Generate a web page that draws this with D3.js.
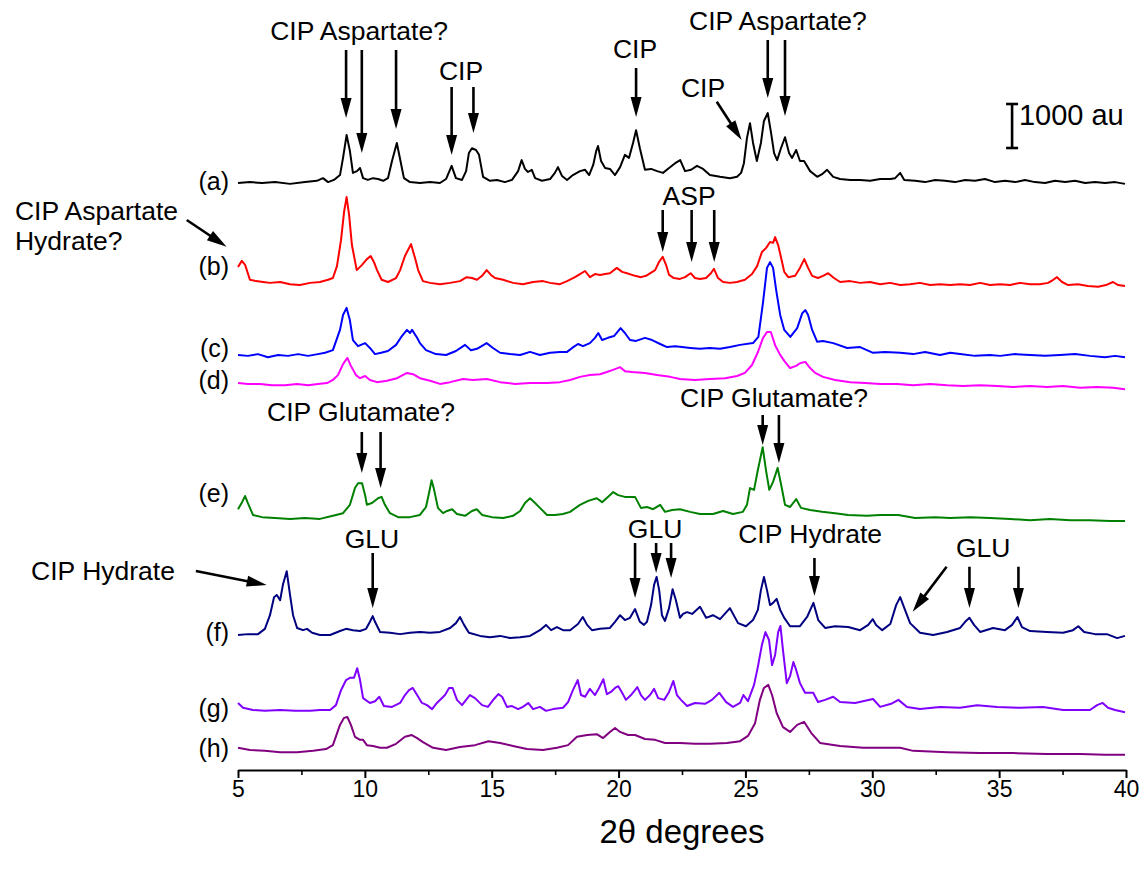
<!DOCTYPE html>
<html><head><meta charset="utf-8">
<script src="https://cdn.jsdelivr.net/npm/d3@7/dist/d3.min.js"></script>
<style>
body{margin:0;background:#fff}
svg{display:block}
text{font-family:"Liberation Sans",Arial,Helvetica,sans-serif;fill:#000}
</style>
</head><body>
<svg id="chart" width="1143" height="878"></svg>
<script>
// ---- data: [2theta (deg), intensity above own baseline (au)] ----
const traceA = [[5.0,0],[5.47,20],[5.95,0],[6.46,20],[7.05,-20],[7.64,20],[8.11,50],[8.35,110],[8.55,20],[8.78,70],[9.02,180],[9.14,570],[9.28,1090],[9.41,730],[9.53,230],[9.69,270],[9.81,340],[9.93,110],[10.12,70],[10.32,110],[10.52,90],[10.72,50],[10.91,110],[11.07,500],[11.26,910],[11.39,540],[11.54,110],[11.78,20],[12.17,0],[12.57,20],[12.96,0],[13.2,90],[13.42,390],[13.59,110],[13.83,70],[13.99,270],[14.1,680],[14.22,790],[14.38,750],[14.5,640],[14.66,140],[14.93,50],[15.21,70],[15.52,20],[15.8,70],[16.04,270],[16.18,520],[16.31,320],[16.43,250],[16.58,300],[16.71,110],[16.98,50],[17.3,90],[17.49,230],[17.61,360],[17.77,160],[17.97,70],[18.2,180],[18.48,270],[18.68,300],[18.84,180],[19.0,410],[19.12,730],[19.19,840],[19.31,500],[19.47,340],[19.66,320],[19.86,180],[20.06,360],[20.25,640],[20.41,570],[20.57,910],[20.69,1200],[20.84,790],[21.04,300],[21.28,320],[21.52,270],[21.75,230],[21.99,340],[22.23,450],[22.43,520],[22.62,270],[22.86,300],[23.09,390],[23.33,320],[23.6,180],[24.0,140],[24.39,110],[24.67,140],[24.83,230],[24.94,450],[25.06,1020],[25.18,1360],[25.3,910],[25.45,500],[25.61,910],[25.73,1410],[25.88,1590],[26.01,1140],[26.13,680],[26.25,520],[26.4,790],[26.56,1040],[26.72,680],[26.84,570],[27.0,750],[27.15,500],[27.31,500],[27.55,270],[27.83,140],[28.02,200],[28.22,300],[28.46,140],[28.73,90],[29.13,70],[29.52,70],[29.92,50],[30.31,90],[30.71,90],[30.9,110],[31.1,230],[31.26,70],[31.69,50],[32.08,20],[32.48,70],[32.87,50],[33.26,20],[33.66,70],[34.05,50],[34.44,90],[34.84,20],[35.23,50],[35.63,20],[36.02,70],[36.41,20],[36.81,0],[37.2,50],[37.6,20],[37.99,50],[38.39,0],[38.78,20],[39.17,0],[39.57,20],[39.96,-20]];
const traceB = [[5.0,340],[5.15,480],[5.28,390],[5.47,50],[5.71,20],[5.99,0],[6.26,-20],[6.66,0],[7.05,-50],[7.44,-70],[7.84,-20],[8.23,0],[8.55,50],[8.74,90],[8.9,360],[9.06,950],[9.18,1590],[9.28,1930],[9.38,1520],[9.49,840],[9.68,270],[9.89,390],[10.08,520],[10.23,590],[10.36,450],[10.48,270],[10.66,50],[10.91,0],[11.23,90],[11.39,270],[11.58,590],[11.82,860],[11.98,540],[12.1,270],[12.29,20],[12.57,-20],[12.96,-50],[13.36,-20],[13.75,20],[14.01,110],[14.22,90],[14.42,50],[14.62,140],[14.8,270],[14.97,160],[15.13,90],[15.45,50],[15.84,-20],[16.23,-50],[16.63,0],[17.02,20],[17.3,-20],[17.69,-50],[17.97,20],[18.28,110],[18.48,180],[18.68,250],[18.87,110],[19.07,180],[19.27,160],[19.47,180],[19.66,200],[19.93,320],[20.14,230],[20.33,200],[20.65,140],[20.88,110],[21.08,140],[21.44,270],[21.59,450],[21.74,570],[21.87,390],[21.99,160],[22.18,90],[22.42,70],[22.62,110],[22.84,200],[23.01,90],[23.21,70],[23.45,90],[23.64,200],[23.76,300],[23.92,90],[24.12,0],[24.39,-20],[24.67,0],[24.98,50],[25.26,180],[25.46,360],[25.65,680],[25.81,770],[25.97,910],[26.09,890],[26.17,1020],[26.29,840],[26.41,540],[26.53,230],[26.69,110],[26.96,140],[27.15,320],[27.32,520],[27.47,320],[27.63,140],[27.86,90],[28.06,140],[28.26,200],[28.49,90],[28.73,0],[29.13,20],[29.52,-20],[29.91,0],[30.31,-50],[30.7,-20],[31.1,-70],[31.49,-50],[31.88,-20],[32.28,-70],[32.67,-50],[33.07,-70],[33.46,-50],[33.85,-70],[34.25,-20],[34.64,-70],[35.04,-50],[35.43,-70],[35.82,-20],[36.22,-50],[36.61,-50],[36.93,-20],[37.13,50],[37.28,110],[37.48,0],[37.72,-70],[38.11,-50],[38.5,-90],[38.9,-110],[39.21,-70],[39.49,0],[39.69,-70],[39.96,-90]];
const traceC = [[5.0,0],[5.39,-20],[5.79,20],[6.18,-50],[6.58,0],[6.97,-20],[7.37,20],[7.76,-20],[8.15,20],[8.43,50],[8.74,110],[9.02,570],[9.14,910],[9.28,1070],[9.41,790],[9.53,340],[9.73,200],[10.01,270],[10.2,160],[10.4,20],[10.64,50],[10.91,90],[11.23,230],[11.46,430],[11.66,570],[11.78,500],[11.86,570],[12.06,390],[12.17,270],[12.41,110],[12.8,20],[13.2,0],[13.59,90],[13.95,230],[14.18,110],[14.42,140],[14.8,270],[15.05,160],[15.33,50],[15.72,20],[16.12,0],[16.51,70],[16.9,0],[17.3,50],[17.69,70],[17.97,70],[18.17,160],[18.4,250],[18.6,200],[18.87,270],[19.07,390],[19.2,500],[19.35,340],[19.58,390],[19.82,430],[20.08,610],[20.25,500],[20.45,340],[20.69,320],[21.04,390],[21.32,340],[21.64,250],[21.91,180],[22.23,200],[22.5,180],[22.82,160],[23.21,140],[23.6,160],[24.0,140],[24.39,180],[24.79,230],[25.3,270],[25.51,410],[25.69,1180],[25.85,1980],[25.97,2110],[26.09,1980],[26.21,1480],[26.37,910],[26.53,570],[26.77,410],[27.04,610],[27.24,950],[27.36,1020],[27.47,910],[27.63,570],[27.83,300],[28.06,320],[28.46,270],[29.01,160],[29.52,180],[30.03,50],[30.5,70],[31.1,50],[31.61,20],[32.08,70],[32.67,0],[33.07,50],[33.46,20],[34.05,-20],[34.64,0],[35.04,-20],[35.63,20],[36.22,0],[36.81,-20],[37.4,0],[37.99,20],[38.58,-20],[39.17,-50],[39.57,-20],[39.96,-50]];
const traceD = [[5.0,0],[5.39,-20],[5.87,-20],[6.34,-50],[6.85,-50],[7.33,-20],[7.76,-50],[8.15,-20],[8.51,0],[8.74,70],[8.94,180],[9.14,430],[9.31,570],[9.45,390],[9.65,180],[9.81,110],[10.01,160],[10.2,70],[10.48,20],[10.87,50],[11.27,110],[11.66,230],[11.9,200],[12.17,110],[12.57,50],[12.96,-20],[13.36,20],[13.87,90],[14.26,70],[14.81,90],[15.33,20],[15.92,-20],[16.51,0],[17.18,0],[17.69,20],[18.09,70],[18.48,140],[18.87,180],[19.27,200],[19.54,250],[19.78,300],[20.06,360],[20.25,270],[20.53,250],[21.04,230],[21.52,180],[22.03,140],[22.42,90],[23.01,70],[23.6,90],[24.2,110],[24.67,160],[24.98,230],[25.26,410],[25.49,700],[25.69,1020],[25.85,1160],[26.0,1160],[26.17,860],[26.37,640],[26.56,480],[26.76,340],[27.0,390],[27.15,450],[27.36,480],[27.55,340],[27.75,230],[28.06,140],[28.53,70],[29.13,20],[29.72,0],[30.31,-20],[30.98,-20],[31.61,-50],[32.28,-20],[32.95,-50],[33.58,-70],[34.25,-50],[34.92,-70],[35.55,-90],[36.22,-70],[36.89,-90],[37.52,-70],[38.19,-110],[38.86,-90],[39.49,-110],[39.96,-140]];
const traceE = [[5.0,200],[5.16,360],[5.28,500],[5.39,340],[5.59,70],[5.95,20],[6.46,0],[7.05,-20],[7.64,0],[8.23,-20],[8.74,50],[9.14,110],[9.41,300],[9.61,680],[9.73,790],[9.89,790],[10.01,520],[10.08,300],[10.28,340],[10.52,450],[10.66,480],[10.79,300],[10.99,110],[11.31,20],[11.78,20],[12.17,70],[12.41,250],[12.53,570],[12.63,860],[12.73,640],[12.88,230],[13.08,110],[13.24,160],[13.44,200],[13.63,90],[13.95,50],[14.22,160],[14.41,200],[14.62,70],[15.01,20],[15.45,0],[15.84,50],[16.12,160],[16.31,340],[16.51,450],[16.71,340],[16.9,230],[17.18,70],[17.49,70],[17.81,90],[18.09,140],[18.48,300],[18.8,390],[19.14,450],[19.35,360],[19.58,480],[19.79,590],[19.98,520],[20.25,480],[20.65,480],[20.88,230],[21.12,250],[21.36,200],[21.64,300],[21.83,140],[22.11,180],[22.42,200],[22.82,140],[23.21,90],[23.72,90],[24.12,160],[24.51,90],[24.9,140],[25.06,300],[25.18,680],[25.34,640],[25.49,1090],[25.68,1610],[25.81,1090],[25.94,640],[26.09,820],[26.27,1140],[26.41,750],[26.56,300],[26.76,250],[27.0,430],[27.19,230],[27.55,180],[28.02,140],[28.53,110],[29.05,70],[29.79,50],[30.31,70],[31.02,70],[31.69,0],[32.48,20],[33.07,0],[33.85,20],[34.64,0],[35.43,-20],[36.22,-50],[37.0,-20],[37.8,-50],[38.58,-50],[39.37,-70],[39.96,-70]];
const traceF = [[5.0,0],[5.39,20],[5.79,20],[6.06,140],[6.26,450],[6.42,860],[6.53,910],[6.66,790],[6.77,1140],[6.92,1450],[7.05,910],[7.17,450],[7.33,160],[7.56,110],[7.72,140],[7.92,50],[8.23,0],[8.63,0],[9.02,90],[9.26,140],[9.53,110],[9.81,90],[10.05,140],[10.2,300],[10.31,430],[10.4,300],[10.6,70],[10.99,50],[11.39,20],[11.78,50],[12.17,70],[12.57,50],[12.96,70],[13.36,160],[13.59,270],[13.75,410],[13.91,230],[14.1,50],[14.54,-20],[14.93,-50],[15.33,-20],[15.72,-70],[16.12,-50],[16.51,-20],[16.9,110],[17.14,230],[17.34,110],[17.57,180],[17.81,110],[18.09,110],[18.4,250],[18.59,410],[18.76,230],[18.95,110],[19.27,140],[19.66,160],[19.86,300],[20.06,450],[20.25,340],[20.45,390],[20.65,590],[20.84,300],[21.0,230],[21.12,300],[21.28,680],[21.4,1140],[21.5,1320],[21.6,1020],[21.71,450],[21.83,320],[21.99,610],[22.13,1040],[22.26,790],[22.42,390],[22.54,480],[22.7,520],[22.9,480],[23.21,640],[23.45,390],[23.72,450],[24.0,360],[24.39,610],[24.71,270],[25.02,200],[25.3,340],[25.49,570],[25.61,1020],[25.73,1320],[25.85,1020],[25.97,680],[26.09,730],[26.23,820],[26.37,570],[26.53,390],[26.76,200],[27.15,200],[27.43,410],[27.68,730],[27.87,340],[28.14,160],[28.53,200],[29.05,180],[29.52,110],[29.84,230],[30.02,360],[30.15,230],[30.39,110],[30.71,250],[30.94,680],[31.1,860],[31.29,570],[31.49,270],[31.88,50],[32.4,0],[32.95,70],[33.46,160],[33.66,300],[33.83,390],[34.01,230],[34.25,70],[34.76,160],[35.23,110],[35.51,230],[35.72,410],[35.9,180],[36.22,90],[36.89,70],[37.52,50],[37.91,110],[38.12,200],[38.35,70],[38.78,20],[39.25,20],[39.65,-70],[39.96,-20]];
const traceG = [[5.0,160],[5.2,50],[5.59,0],[6.06,-20],[6.66,0],[7.25,-20],[7.84,-20],[8.23,0],[8.63,0],[8.86,110],[9.06,450],[9.26,680],[9.41,730],[9.57,730],[9.7,950],[9.81,680],[9.93,270],[10.2,160],[10.4,200],[10.57,300],[10.75,90],[11.07,70],[11.39,160],[11.58,340],[11.74,450],[11.89,500],[12.06,340],[12.25,160],[12.45,110],[12.65,20],[12.84,160],[13.16,340],[13.32,500],[13.46,500],[13.63,230],[13.83,110],[13.99,230],[14.14,340],[14.34,270],[14.62,110],[14.85,70],[15.09,250],[15.26,360],[15.41,300],[15.6,70],[15.8,90],[16.04,20],[16.23,70],[16.44,160],[16.63,20],[16.9,70],[17.14,-20],[17.42,20],[17.81,50],[18.01,180],[18.2,450],[18.39,680],[18.52,340],[18.68,300],[18.87,480],[19.07,340],[19.23,500],[19.4,700],[19.54,360],[19.7,410],[19.86,500],[19.99,540],[20.14,390],[20.29,230],[20.49,340],[20.74,520],[20.88,340],[21.04,230],[21.24,340],[21.4,480],[21.56,270],[21.8,230],[21.99,410],[22.16,660],[22.3,340],[22.46,230],[22.7,90],[23.01,160],[23.41,140],[23.68,230],[23.97,390],[24.24,180],[24.51,70],[24.79,160],[24.92,340],[25.1,200],[25.34,570],[25.49,980],[25.65,1480],[25.79,1770],[25.93,1590],[26.05,1020],[26.17,1250],[26.29,1770],[26.38,1910],[26.48,1360],[26.63,610],[26.76,770],[26.89,1090],[27.0,910],[27.15,610],[27.35,390],[27.67,390],[27.86,180],[28.14,230],[28.46,300],[28.73,180],[29.32,160],[30.03,250],[30.31,70],[30.74,140],[31.03,230],[31.37,70],[31.88,20],[32.67,70],[33.46,50],[34.13,110],[34.92,70],[35.82,50],[36.73,70],[37.52,0],[38.58,0],[38.86,110],[39.08,160],[39.29,50],[39.57,0],[39.96,-50]];
const traceH = [[5.0,50],[5.47,0],[6.06,-20],[6.66,-50],[7.33,-50],[7.96,-20],[8.47,20],[8.74,110],[9.02,570],[9.18,730],[9.31,750],[9.45,570],[9.61,300],[9.81,230],[9.93,230],[10.08,110],[10.32,90],[10.6,50],[10.87,50],[11.23,140],[11.58,300],[11.85,340],[12.06,270],[12.29,180],[12.69,50],[13.2,0],[13.75,70],[14.34,110],[14.87,200],[15.33,160],[15.84,90],[16.39,20],[17.02,0],[17.57,50],[18.01,110],[18.36,300],[18.76,340],[19.14,360],[19.39,270],[19.66,410],[19.86,500],[20.06,410],[20.37,340],[20.65,340],[21.04,250],[21.44,230],[21.83,160],[22.42,160],[23.01,140],[23.6,140],[24.27,160],[24.79,200],[25.1,320],[25.38,610],[25.57,1140],[25.73,1410],[25.9,1480],[26.05,1250],[26.23,840],[26.48,520],[26.76,410],[27.04,570],[27.31,640],[27.59,390],[27.94,160],[28.73,90],[29.64,50],[31.1,50],[31.61,-20],[32.95,-50],[34.25,-70],[35.55,-70],[36.89,-90],[38.19,-90],[39.17,-110],[39.96,-110]];

const traces = [traceA, traceB, traceC, traceD, traceE, traceF, traceG, traceH];
const traceLabels = ["(a)","(b)","(c)","(d)","(e)","(f)","(g)","(h)"];
const traceOffsets = [13341, 11091, 9432, 8795, 5727, 3068, 1364, 455];   // stacking offsets, au
const labelLevels = [13182, 11250, 9386, 8659, 6091, 2932, 1205, 295];   // label baselines, au
const labelX = 4.65;
const traceColors = ["#000000","#ff0000","#0000ff","#ff00ff","#008000","#000080","#8000ff","#800080"];

const xMajorTicks = [5,10,15,20,25,30,35,40];
const xMinorTicks = [7.5,12.5,17.5,22.5,27.5,32.5,37.5];
const xTitle = "2\u03b8 degrees";

// vertical arrows: [2theta, top au, tip au]
const vArrows = [
  [9.26,16364,14818],[9.88,16364,14023],[11.23,16364,14568],
  [13.42,15523,13977],[14.28,15523,14477],
  [20.69,15955,14841],
  [25.88,16591,15273],[26.56,16591,14864],
  [21.74,12727,11773],[22.88,12727,11545],[23.77,12727,11545],
  [9.88,7682,6750],[10.62,7682,6409],
  [25.68,8068,7386],[26.32,8068,6977],
  [10.31,4932,3682],
  [20.65,5159,3909],[21.48,5159,4477],[22.07,5159,4364],
  [27.72,4818,3955],
  [33.83,4620,3682],[35.76,4620,3682]
];
// slanted arrows: [x1, y1, x2(tip), y2(tip)] in (2theta, au)
const sArrows = [
  [23.87,15189,24.85,14318],
  [2.98,12500,4.55,11893],
  [3.34,4523,6.13,4205],
  [32.93,4620,31.59,3598]
];
// annotation texts: [text, 2theta, au, anchor]
const notes = [
  ["CIP Aspartate?",9.77,16591,"middle"],
  ["CIP",13.79,15682,"middle"],
  ["CIP",20.65,16182,"middle"],
  ["CIP Aspartate?",26.28,16818,"middle"],
  ["CIP",23.33,15295,"middle"],
  ["ASP",22.78,12841,"middle"],
  ["CIP Aspartate",-3.79,12500,"start"],
  ["Hydrate?",-3.79,11818,"start"],
  ["CIP Glutamate?",9.85,7932,"middle"],
  ["CIP Glutamate?",26.13,8250,"middle"],
  ["CIP Hydrate",-0.32,4318,"middle"],
  ["GLU",10.28,5045,"middle"],
  ["GLU",21.44,5273,"middle"],
  ["CIP Hydrate",27.55,5159,"middle"],
  ["GLU",34.37,4841,"middle"]
];
const scaleBar = {x: 35.51, bottom: 14136, size: 1000, label: "1000 au", labelX: 35.78, labelY: 14660};

// ---- drawing ----
const svg = d3.select("#chart");
const x = d3.scaleLinear().domain([5, 40]).range([238, 1126]);
const y = d3.scaleLinear().domain([0, 17500]).range([770, 0]);

const line = d3.line().x(d => d[0]).y(d => d[1]);

traces.forEach((tr, i) => {
  const pts = tr.map(d => [x(d[0]), y(d[1] + traceOffsets[i])]);
  svg.append("path").attr("d", line(pts))
    .attr("fill", "none").attr("stroke", traceColors[i])
    .attr("stroke-width", 2).attr("stroke-linejoin", "round");
  svg.append("text").attr("x", x(labelX)).attr("y", y(labelLevels[i]))
    .attr("text-anchor", "end").attr("font-size", 25).text(traceLabels[i]);
});

// axis
const axisG = svg.append("g").attr("transform", `translate(0,${y(0)})`);
axisG.call(d3.axisBottom(x).tickValues(xMajorTicks).tickSize(8).tickSizeOuter(0).tickPadding(3).tickFormat(d3.format("d")));
axisG.select(".domain").attr("stroke", "#000").attr("stroke-width", 2);
axisG.selectAll(".tick line").attr("stroke", "#000").attr("stroke-width", 2);
axisG.selectAll(".tick text").attr("font-size", 23).attr("font-family", '"Liberation Sans",Arial,sans-serif').attr("fill", "#000");
const minorG = svg.append("g").attr("transform", `translate(0,${y(0)})`);
minorG.call(d3.axisBottom(x).tickValues(xMinorTicks).tickSize(5).tickSizeOuter(0).tickFormat(""));
minorG.select(".domain").remove();
minorG.selectAll(".tick line").attr("stroke", "#000").attr("stroke-width", 1.6);

svg.append("text").attr("x", (x(5) + x(40)) / 2).attr("y", 843)
  .attr("text-anchor", "middle").attr("font-size", 33).text(xTitle);

// arrows
function drawArrow(x1, y1, x2, y2) {
  const dx = x2 - x1, dy = y2 - y1, L = Math.hypot(dx, dy), ux = dx / L, uy = dy / L;
  const hl = 20, hw = 5.5;
  const bx = x2 - ux * hl, by = y2 - uy * hl;
  svg.append("line").attr("x1", x1).attr("y1", y1).attr("x2", bx + ux * 3).attr("y2", by + uy * 3)
    .attr("stroke", "#000").attr("stroke-width", 2.6);
  svg.append("path").attr("d", `M${x2},${y2}L${bx - uy * hw},${by + ux * hw}L${bx + uy * hw},${by - ux * hw}Z`)
    .attr("fill", "#000");
}
vArrows.forEach(a => drawArrow(x(a[0]), y(a[1]), x(a[0]), y(a[2])));
sArrows.forEach(a => drawArrow(x(a[0]), y(a[1]), x(a[2]), y(a[3])));

notes.forEach(n => {
  svg.append("text").attr("x", x(n[1])).attr("y", y(n[2]))
    .attr("text-anchor", n[3]).attr("font-size", 26.5).text(n[0]);
});

// scale bar
const sbx = x(scaleBar.x), sb0 = y(scaleBar.bottom), sb1 = y(scaleBar.bottom + scaleBar.size);
svg.append("line").attr("x1", sbx).attr("x2", sbx).attr("y1", sb0).attr("y2", sb1).attr("stroke", "#000").attr("stroke-width", 2.6);
[sb0, sb1].forEach(v => svg.append("line").attr("x1", sbx - 6).attr("x2", sbx + 6).attr("y1", v).attr("y2", v).attr("stroke", "#000").attr("stroke-width", 2.6));
svg.append("text").attr("x", x(scaleBar.labelX)).attr("y", y(scaleBar.labelY)).attr("font-size", 29).text(scaleBar.label);
</script>
</body></html>
